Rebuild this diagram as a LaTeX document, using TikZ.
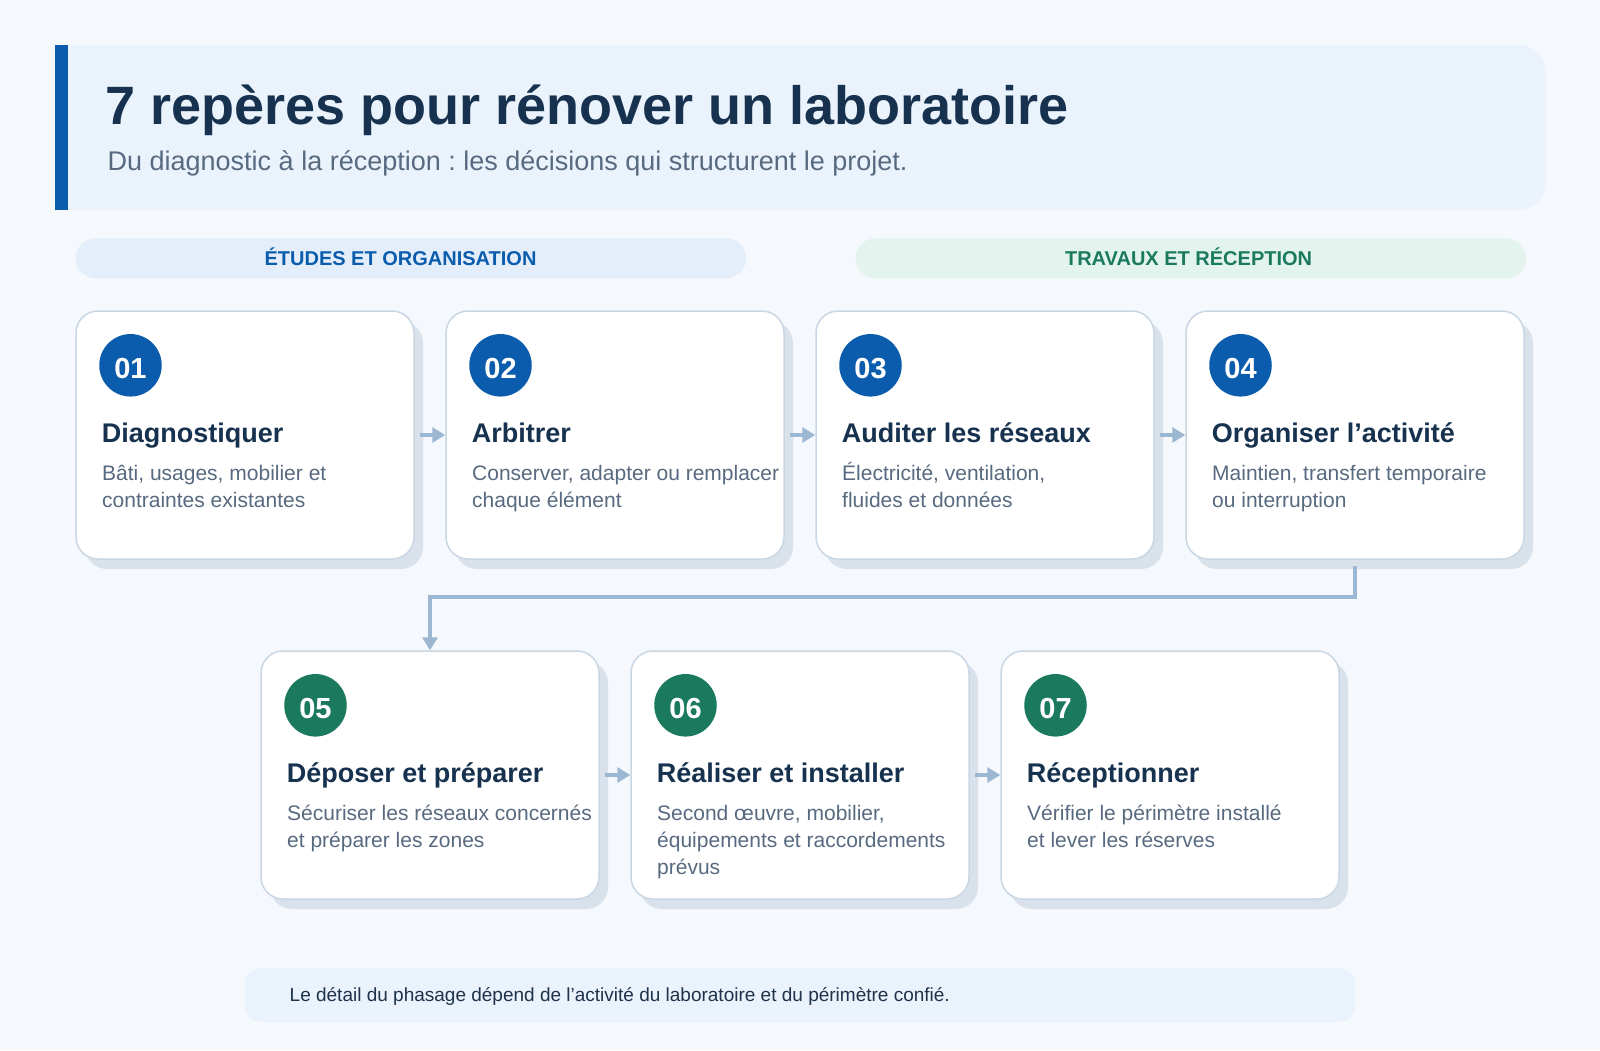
\documentclass[tikz,border=0pt]{standalone}
\usepackage{fontspec}
\setmainfont{Liberation Sans}
\usetikzlibrary{arrows.meta,shadows}
\definecolor{bgc}{HTML}{F5F8FC}
\definecolor{titlefill}{HTML}{EAF2FC}
\definecolor{bluec}{HTML}{0B5CAD}
\definecolor{greenc}{HTML}{1B7A5E}
\definecolor{navy}{HTML}{17324F}
\definecolor{grayt}{HTML}{586A80}
\definecolor{bandblue}{HTML}{E4EEFA}
\definecolor{bandgreen}{HTML}{E3F4EE}
\definecolor{cardborder}{HTML}{C9D7E4}
\definecolor{shadowc}{HTML}{D9E2EA}
\definecolor{connc}{HTML}{9BB7D1}
\definecolor{footc}{HTML}{1E324A}
\frenchspacing
\tikzset{
  cardbox/.style={draw=cardborder, line width=1.5pt, fill=white, rounded corners=22pt,
    minimum width=338pt, minimum height=248pt, inner sep=0pt,
    drop shadow={shadow xshift=9pt, shadow yshift=-10pt, fill=shadowc, opacity=1}},
  numcirc/.style={circle, minimum size=62.5pt, inner sep=0pt},
  numtxt/.style={anchor=base, inner sep=0pt, text=white,
    font=\fontsize{29}{34}\selectfont\bfseries},
  headtxt/.style={anchor=base west, inner sep=0pt, text=navy,
    font=\fontsize{27}{32}\selectfont\bfseries},
  desctxt/.style={anchor=base west, inner sep=0pt, text=grayt,
    font=\fontsize{21}{25}\selectfont},
  bandbox/.style={rounded corners=20pt, minimum width=670.4pt, minimum height=40pt, inner sep=0pt},
  bandtxt/.style={anchor=base, inner sep=0pt, font=\fontsize{20}{24}\selectfont\bfseries},
  conn/.style={draw=connc, line width=4.5pt, -{Triangle[length=13pt,width=15pt]}},
}
\newcommand\stepcard[9]{%
  \node[cardbox] (#1) at (#2+169,#3+124) {};
  \node[numcirc, fill=#5] (#1n) at (#2+54.5,#3+54.3) {};
  \node[numtxt] (#1t) at (#2+54.5,#3+67.3) {#4};
  \node[headtxt] (#1h) at (#2+25.7,#3+131) {#6};
  \node[desctxt] (#1a) at (#2+26,#3+169) {#7};
  \node[desctxt] (#1b) at (#2+26,#3+196.3) {#8};
  \if\relax\detokenize{#9}\relax\else
  \node[desctxt] (#1c) at (#2+26,#3+223.6) {#9};
  \fi
}
\begin{document}
\begin{tikzpicture}[x=1pt,y=-1pt]
\useasboundingbox (0,0) rectangle (1600,1050);
\fill[bgc] (0,0) rectangle (1600,1050);
% title box
\fill[titlefill, rounded corners=28pt] (55,45) rectangle (1546,210);
\fill[titlefill] (55,45) rectangle (110,210);
\fill[bluec] (55,45) rectangle (68,210);
\node[anchor=base west, inner sep=0pt, text=navy, font=\fontsize{54}{60}\selectfont\bfseries] (title) at (105,124) {7 repères pour rénover un laboratoire};
\node[anchor=base west, inner sep=0pt, text=grayt, font=\fontsize{27}{32}\selectfont] (subtitle) at (107.5,170) {Du diagnostic à la réception : les décisions qui structurent le projet.};
% phase bands
\node[bandbox, fill=bandblue] (bandA) at (410.8,258.3) {};
\node[bandtxt, text=bluec] (bandAt) at (400.5,265) {ÉTUDES ET ORGANISATION};
\node[bandbox, fill=bandgreen] (bandB) at (1190.8,258.3) {};
\node[bandtxt, text=greenc] (bandBt) at (1188.6,265) {TRAVAUX ET RÉCEPTION};
% cards
\stepcard{c1}{76}{311}{01}{bluec}{Diagnostiquer}{Bâti, usages, mobilier et}{contraintes existantes}{}
\stepcard{c2}{446}{311}{02}{bluec}{Arbitrer}{Conserver, adapter ou remplacer}{chaque élément}{}
\stepcard{c3}{816}{311}{03}{bluec}{Auditer les réseaux}{Électricité, ventilation,}{fluides et données}{}
\stepcard{c4}{1186}{311}{04}{bluec}{Organiser l’activité}{Maintien, transfert temporaire}{ou interruption}{}
\stepcard{c5}{261}{651}{05}{greenc}{Déposer et préparer}{Sécuriser les réseaux concernés}{et préparer les zones}{}
\stepcard{c6}{631}{651}{06}{greenc}{Réaliser et installer}{Second œuvre, mobilier,}{équipements et raccordements}{prévus}
\stepcard{c7}{1001}{651}{07}{greenc}{Réceptionner}{Vérifier le périmètre installé}{et lever les réserves}{}
% connectors
\draw[conn] ([xshift=5pt]c1.east) -- (c2.west);
\draw[conn] ([xshift=5pt]c2.east) -- (c3.west);
\draw[conn] ([xshift=5pt]c3.east) -- (c4.west);
\draw[conn] ([yshift=-6pt]c4.south) -- ++(0,31) -| (c5.north);
\draw[conn] ([xshift=5pt]c5.east) -- (c6.west);
\draw[conn] ([xshift=5pt]c6.east) -- (c7.west);
% footer
\fill[titlefill, rounded corners=16pt] (245,968) rectangle (1355,1022);
\node[anchor=base west, inner sep=0pt, text=footc, font=\fontsize{19}{23}\selectfont] (footer) at (289.5,1001) {Le détail du phasage dépend de l’activité du laboratoire et du périmètre confié.};
\end{tikzpicture}
\end{document}
